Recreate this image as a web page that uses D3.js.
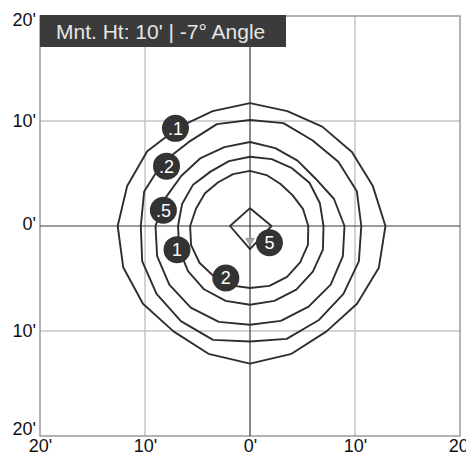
<!DOCTYPE html>
<html>
<head>
<meta charset="utf-8">
<script src="https://cdn.jsdelivr.net/npm/d3@7"></script>
<style>
  body { margin: 0; background: #fff; }
  text { font-family: "Liberation Sans", Arial, sans-serif; }
</style>
</head>
<body>
<div id="chart"></div>
<script>
// contour levels (footcandles) and their outlines, radius in feet every 18 deg clockwise from top
const levels = [".1", ".2", ".5", "1", "2", "5"];
const ring01 = [11.7, 11.5, 11.7, 12.0, 12.3, 12.9, 12.9, 12.6, 12.4, 12.8, 13.1, 12.8, 12.4, 12.6, 12.7, 12.6, 12.3, 12.1, 11.6, 11.5];
const ring02 = [10.1, 10.3, 10.1, 10.4, 10.7, 10.6, 10.9, 11.0, 11.1, 11.3, 11.0, 11.4, 11.2, 11.0, 10.8, 10.4, 10.6, 10.3, 9.9, 10.2];
const ring05 = [8.0, 7.8, 7.7, 7.7, 8.4, 9.0, 9.3, 9.5, 9.5, 9.5, 9.4, 9.6, 9.6, 9.5, 9.3, 9.0, 8.5, 8.1, 8.0, 7.9];
const ring1 = [6.6, 6.7, 6.8, 7.0, 7.0, 7.0, 7.3, 7.4, 7.5, 7.5, 7.5, 7.5, 7.45, 7.3, 7.1, 6.85, 6.8, 6.7, 6.4, 6.5];
const ring2 = [5.25, 5.1, 4.95, 5.0, 5.3, 5.55, 5.8, 5.9, 6.0, 6.0, 5.9, 5.95, 5.9, 5.95, 5.9, 5.7, 5.4, 5.3, 5.15, 5.2];
const ring5 = [1.7, 2.05, 2.2, 1.9]; // diamond: top, right, bottom, left

// label bubble positions (feet)
const labelX = [-7.1, -7.95, -8.25, -6.95, -2.3, 1.85];
const labelY = [9.3, 5.7, 1.5, -2.25, -4.95, -1.6];

const tickValues = [-20, -10, 0, 10, 20];
const tickLabels = ["20'", "10'", "0'", "10'", "20'"];
const title = "Mnt. Ht: 10' | -7\u00B0 Angle";

const width = 466;
const height = 463;
const margin = {top: 16, right: 6, bottom: 27, left: 40};

const svg = d3.select("#chart")
    .append("svg")
    .attr("width", width)
    .attr("height", height);

const x = d3.scaleLinear().domain([-20, 20]).range([margin.left, width - margin.right]);
const y = d3.scaleLinear().domain([-20, 20]).range([height - margin.bottom, margin.top]);
const r = d3.scaleLinear().domain([0, 20]).range([0, x(20) - x(0)]);

// grid
svg.append("g")
    .selectAll("line")
    .data([-10, 10])
    .enter()
    .append("line")
    .attr("x1", d => x(d)).attr("x2", d => x(d))
    .attr("y1", y(20)).attr("y2", y(-20))
    .attr("stroke", "#c4c4c4")
    .attr("stroke-width", 1.5);

svg.append("g")
    .selectAll("line")
    .data([-10, 10])
    .enter()
    .append("line")
    .attr("y1", d => y(d)).attr("y2", d => y(d))
    .attr("x1", x(-20)).attr("x2", x(20))
    .attr("stroke", "#c4c4c4")
    .attr("stroke-width", 1.5);

// frame
svg.append("rect")
    .attr("x", x(-20)).attr("y", y(20))
    .attr("width", x(20) - x(-20)).attr("height", y(-20) - y(20))
    .attr("fill", "none")
    .attr("stroke", "#8a8a8a")
    .attr("stroke-width", 1.3);

// zero axes
svg.append("line")
    .attr("x1", x(0)).attr("x2", x(0)).attr("y1", y(20)).attr("y2", y(-20))
    .attr("stroke", "#3a3a3a").attr("stroke-width", 1.2);
svg.append("line")
    .attr("y1", y(0)).attr("y2", y(0)).attr("x1", x(-20)).attr("x2", x(20))
    .attr("stroke", "#3a3a3a").attr("stroke-width", 1.2);

// axis tick labels
const yAxis = d3.axisLeft(y)
    .tickValues(tickValues)
    .tickFormat((d, i) => tickLabels[i])
    .tickSize(0)
    .tickPadding(4);
const gy = svg.append("g")
    .attr("transform", "translate(" + x(-20) + ",0)")
    .call(yAxis);
gy.select(".domain").remove();
gy.selectAll("text")
    .attr("font-size", 18)
    .attr("fill", "#111")
    .style("font-family", "Liberation Sans, Arial, sans-serif")
    .attr("dy", (d) => d === 20 ? "0.55em" : d === -20 ? "-0.1em" : d === 0 ? "0.2em" : "0.32em");

const xAxis = d3.axisBottom(x)
    .tickValues(tickValues)
    .tickFormat((d, i) => tickLabels[i])
    .tickSize(0)
    .tickPadding(3);
const gx = svg.append("g")
    .attr("transform", "translate(0," + y(-20) + ")")
    .call(xAxis);
gx.select(".domain").remove();
gx.selectAll("text")
    .attr("font-size", 18)
    .attr("fill", "#111")
    .style("font-family", "Liberation Sans, Arial, sans-serif");

// contours
const rings = [ring01, ring02, ring05, ring1, ring2, ring5];
const plot = svg.append("g")
    .attr("transform", "translate(" + x(0) + "," + y(0) + ")");

plot.selectAll("path.ring")
    .data(rings)
    .enter()
    .append("path")
    .attr("class", "ring")
    .attr("d", d => d3.lineRadial()
        .angle((v, i) => i * 2 * Math.PI / d.length)
        .radius(v => r(v))
        .curve(d3.curveLinearClosed)(d))
    .attr("fill", "none")
    .attr("stroke", "#2e2e2e")
    .attr("stroke-width", 1.9)
    .attr("stroke-linejoin", "round");

// fixture marker
svg.append("path")
    .attr("d", d3.symbol().type(d3.symbolTriangle).size(30)())
    .attr("transform", "translate(" + x(0) + "," + y(-1.4) + ") rotate(180)")
    .attr("fill", "#aaa")
    .attr("stroke", "#888")
    .attr("stroke-width", 0.8);

// label bubbles
const bubbles = svg.selectAll("g.bubble")
    .data(levels)
    .enter()
    .append("g")
    .attr("class", "bubble")
    .attr("transform", (d, i) => "translate(" + x(labelX[i]) + "," + y(labelY[i]) + ")");

bubbles.append("circle")
    .attr("r", 13.5)
    .attr("fill", "#333");

bubbles.append("text")
    .text(d => d)
    .attr("text-anchor", "middle")
    .attr("dy", "0.36em")
    .attr("font-size", 18)
    .attr("fill", "#fff");

// title box
svg.append("rect")
    .attr("x", x(-20)).attr("y", y(20) - 1)
    .attr("width", 246).attr("height", 32)
    .attr("fill", "#3b3b3b");

svg.append("text")
    .attr("x", x(-20) + 16)
    .attr("y", y(20) + 23)
    .attr("font-size", 21)
    .attr("fill", "#e6e6e6")
    .text(title);
</script>
</body>
</html>
